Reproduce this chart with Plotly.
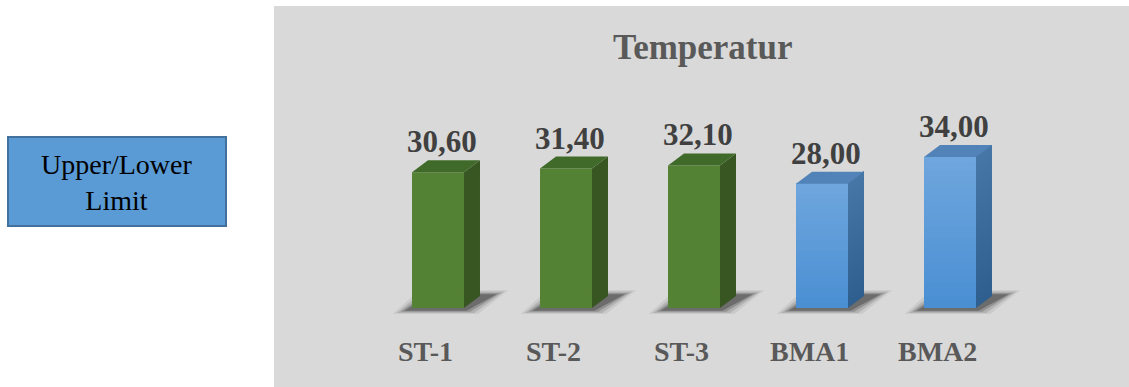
import plotly.graph_objects as go

# Temperature readings per station and the upper/lower limits
categories = ["ST-1", "ST-2", "ST-3", "BMA1", "BMA2"]
values = [30.60, 31.40, 32.10, 28.00, 34.00]
kinds = ["station", "station", "station", "limit", "limit"]

# (bottom colour, top colour) for each face
palette = {
    "station": {"front": ("#548235", "#548235"), "side": ("#375622", "#385723"),
                "top": "#406a29"},
    "limit": {"front": ("#4a8ed3", "#6fa7dd"), "side": ("#2f5f8f", "#4676a6"),
              "top": "#5283b8"},
}

W = 1129
H = 387
BAR_W = 0.406      # front face width (category units)
DX = 0.125         # depth offset along x
DY = 2.7           # depth offset along y
STRIPS = 24        # slices used to shade the faces vertically


def mix(c0, c1, t):
    a = [int(c0[j:j + 2], 16) for j in (1, 3, 5)]
    b = [int(c1[j:j + 2], 16) for j in (1, 3, 5)]
    return "rgb({},{},{})".format(*[round(a[n] + (b[n] - a[n]) * t) for n in range(3)])


def poly(px, py, color):
    fig.add_trace(go.Scatter(
        x=px + [px[0]], y=py + [py[0]], mode="lines", fill="toself",
        fillcolor=color, line=dict(width=0), hoverinfo="skip", showlegend=False))


fig = go.Figure()
xs = list(range(len(categories)))

# floor shadows under each column (layered for a soft edge)
for i in xs:
    for k, op in enumerate([0.08, 0.13, 0.20, 0.30]):
        g = 0.03 * (3 - k)
        px = [i - BAR_W / 2 - 0.06 - g, i + BAR_W / 2 + 0.02 + g,
              i + BAR_W / 2 + DX + 0.13 + g, i - BAR_W / 2 + DX + 0.02 - g]
        py = [-0.6 - 0.25 * (3 - k), -0.6 - 0.25 * (3 - k),
              DY + 0.4 + 0.3 * (3 - k), DY + 0.4 + 0.3 * (3 - k)]
        poly(px, py, f"rgba(20,20,20,{op})")

# column faces; shaded faces are built from overlapping slices that each
# reach the top, so no seams show between them
for i, v, k in zip(xs, values, kinds):
    r = i + BAR_W / 2
    l = i - BAR_W / 2
    fb, ft = palette[k]["front"]
    sb, st = palette[k]["side"]
    n = STRIPS if fb != ft else 1
    for s in range(n):
        y0 = v * s / n
        t = (s + 0.5) / n if n > 1 else 0.0
        poly([l, r, r, l], [y0, y0, v, v], mix(fb, ft, t))
        poly([r, r + DX, r + DX, r], [y0, y0 + DY, v + DY, v], mix(sb, st, t))
    poly([l, r, r + DX, l + DX], [v, v, v + DY, v + DY], palette[k]["top"])

# value labels
for i, v in zip(xs, values):
    fig.add_annotation(
        x=i + 0.03, y=v + DY, xref="x", yref="y",
        text=f"{v:.2f}".replace(".", ","), showarrow=False,
        xanchor="center", yanchor="bottom", yshift=-1,
        font=dict(family="Liberation Serif", size=31, color="#404040", weight="bold"))

# category labels
for i, c in zip(xs, categories):
    fig.add_annotation(
        x=i - 0.1, y=-9.9, xref="x", yref="y", text=c, showarrow=False,
        xanchor="center", yanchor="middle",
        font=dict(family="Liberation Serif", size=28, color="#595959", weight="bold"))

# chart title
fig.add_annotation(
    x=703 / W, y=1 - 47 / H, xref="paper", yref="paper", text="Temperatur",
    showarrow=False, xanchor="center", yanchor="middle",
    font=dict(family="Liberation Serif", size=35, color="#595959", weight="bold"))

# legend-like box on the left
fig.add_shape(type="rect", xref="paper", yref="paper",
              x0=8 / W, x1=226 / W, y0=1 - 226 / H, y1=1 - 137 / H,
              fillcolor="#5b9bd5", line=dict(color="#41719c", width=2))
fig.add_annotation(
    x=117 / W, y=1 - 182 / H, xref="paper", yref="paper",
    text="Upper/Lower<br>Limit", showarrow=False,
    xanchor="center", yanchor="middle", align="center",
    font=dict(family="Liberation Serif", size=28, color="#000000"))

x0 = (274 - 438) / 128
x1 = (1129 - 438) / 128
fig.update_layout(
    width=W, height=H,
    margin=dict(l=0, r=0, t=0, b=0),
    paper_bgcolor="white",
    plot_bgcolor="#d9d9d9",
    xaxis=dict(domain=[274 / W, 1], range=[x0, x1], visible=False, fixedrange=True),
    yaxis=dict(domain=[0, 1 - 6 / H], range=[-(387 - 308) / 4.44, (308 - 6) / 4.44],
               visible=False, fixedrange=True),
)

fig.write_html("out.html")
